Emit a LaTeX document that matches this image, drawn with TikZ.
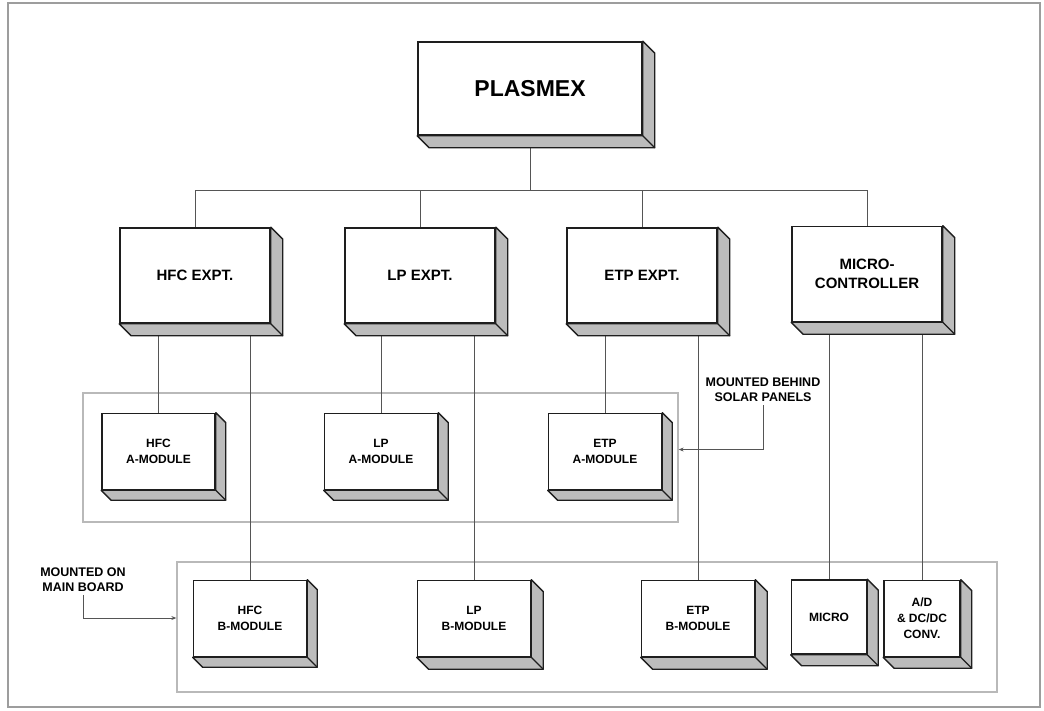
\documentclass[tikz,border=0pt]{standalone}
\usepackage{fontspec}
\setmainfont{Liberation Sans}
\usetikzlibrary{arrows.meta,calc,positioning}
\definecolor{pxdark}{RGB}{30,30,30}
\definecolor{pxside}{RGB}{188,188,188}
\definecolor{pxwire}{RGB}{85,85,85}
\definecolor{pxframe}{RGB}{185,185,185}

\begin{document}
\begin{tikzpicture}[x=1pt,y=-1pt,>=Stealth,
        font=\bfseries,
        blk/.style={draw=pxdark,line width=1.6pt,fill=white,align=center,inner sep=0pt},
        top/.style={blk,minimum width=224pt,minimum height=93pt,font=\fontsize{23}{26}\selectfont\bfseries},
        expt/.style={blk,minimum width=150pt,minimum height=95pt,font=\fontsize{15}{19}\selectfont\bfseries},
        modl/.style={blk,minimum width=113pt,minimum height=76pt,font=\fontsize{12}{16}\selectfont\bfseries},
        side/.style={draw=pxdark,line width=1.3pt,fill=pxside,line join=round},
        wire/.style={draw=pxwire,line width=1pt},
        grp/.style={draw=pxframe,line width=1.3pt,inner sep=0pt},
        note/.style={align=center,font=\fontsize{12.5}{15}\selectfont\bfseries},
        pointer/.style={wire,-{Stealth[length=5pt,width=4pt]}}]
        \useasboundingbox (0,0) rectangle (1044,710);
        \draw[draw=pxframe!85!black,line width=2pt] (8,3) rectangle (1040,707);
        \node[grp,minimum width=595pt,minimum height=129pt] (aframe) at (380.5,457.5) {};
        \node[grp,minimum width=820pt,minimum height=130pt] (bframe) at (587,627) {};
        \node[top] (plasmex) at (530,88.5) {PLASMEX};
        \node[expt] (hfc) at (195,275.5) {HFC EXPT.};
        \node[expt] (lp) at (420,275.5) {LP EXPT.};
        \node[expt] (etp) at (642,275.5) {ETP EXPT.};
        \node[expt] (mc) at (867,274) {MICRO-\\CONTROLLER};
        \node[modl] (hfca) at (158.5,451.5) {HFC\\A-MODULE};
        \node[modl] (lpa) at (381,451.5) {LP\\A-MODULE};
        \node[modl] (etpa) at (605,451.5) {ETP\\A-MODULE};
        \node[modl] (hfcb) at (250,618.5) {HFC\\B-MODULE};
        \node[modl] (lpb) at (474,618.5) {LP\\B-MODULE};
        \node[modl] (etpb) at (698,618.5) {ETP\\B-MODULE};
        \node[modl,minimum width=75pt,minimum height=74pt] (micro) at (829,617) {MICRO};
        \node[modl,minimum width=76pt] (adc) at (922,618.5) {A/D\\\& DC/DC\\CONV.};
        \node[note] (solar) at (763,390) {MOUNTED BEHIND\\SOLAR PANELS};
        \node[note] (board) at (83,579.5) {MOUNTED ON\\MAIN BOARD};
        \coordinate (bus) at (530,190);
        \draw[wire] (plasmex.south) -- (bus);
        \draw[wire] (hfc.north) |- (mc.north |- bus) -- (mc.north);
        \foreach \n in {lp,etp}
          \draw[wire] (\n.north) -- (\n.north |- bus);
        \foreach \u/\d in {hfc/hfca,hfc/hfcb,lp/lpa,lp/lpb,etp/etpa,etp/etpb,mc/micro,mc/adc}
          \draw[wire] (\d.north) -- (\d.north |- \u.south);
        \draw[pointer] (solar.south) |- ([yshift=8pt]aframe.east);
        \draw[pointer] (board.south) |- ([yshift=9pt]bframe.west);
        \foreach \n/\k in {plasmex/12,hfc/12,lp/12,etp/12,mc/12,hfca/10,lpa/10,etpa/10,hfcb/10,lpb/12,etpb/12,micro/11,adc/11}{
          \filldraw[side] (\n.north east) -- ++(\k,\k) -- ([shift={(\k,\k)}]\n.south east)
            -- ([shift={(\k,\k)}]\n.south west) -- (\n.south west) -- (\n.south east) -- cycle;
          \draw[side] (\n.south east) -- ++(\k,\k);
        }
      \end{tikzpicture}
\end{document}
